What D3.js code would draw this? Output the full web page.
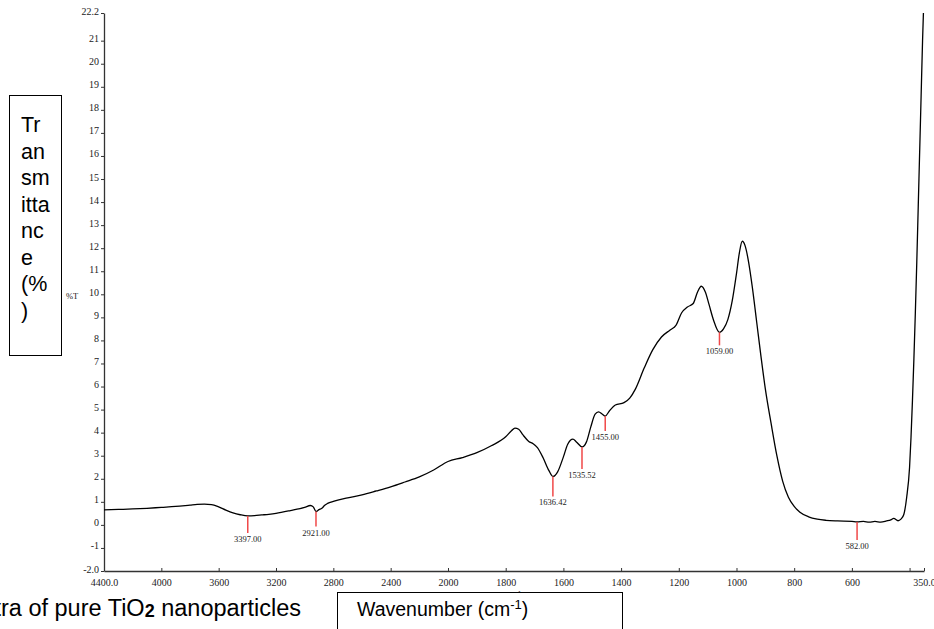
<!DOCTYPE html>
<html>
<head>
<meta charset="utf-8">
<script src="https://cdn.jsdelivr.net/npm/d3@7"></script>
<style>
  body { margin: 0; background: #fff; }
  svg { display: block; }
</style>
</head>
<body>
<script>
// FTIR spectrum of pure TiO2, wavenumber (cm-1) vs %T
var wavenumber = [4400, 4300, 4200, 4100, 4000, 3900, 3800, 3750, 3700, 3650, 3600, 3550, 3500, 3450, 3397, 3350, 3300, 3250, 3200, 3100,
  3000, 2960, 2940, 2921, 2900, 2880, 2860, 2840, 2800, 2700, 2600, 2500, 2400, 2300, 2200, 2100, 2000, 1950, 1900, 1850,
  1800, 1780, 1768, 1755, 1740, 1720, 1705, 1690, 1670, 1650, 1636, 1620, 1600, 1585, 1567, 1555, 1535, 1520, 1505, 1490,
  1478, 1465, 1455, 1440, 1420, 1390, 1370, 1350, 1320, 1290, 1260, 1230, 1210, 1190, 1170, 1150, 1135, 1122, 1108, 1095,
  1080, 1059, 1045, 1030, 1015, 1000, 990, 980, 970, 958, 945, 930, 915, 900, 880, 860, 840, 820, 800, 780,
  750, 720, 690, 650, 600, 582, 560, 540, 520, 500, 480, 465, 455, 440, 430, 420, 410, 400, 395, 390,
  385, 380, 375, 370, 365, 360, 355, 352];
var transmittance = [0.65, 0.67, 0.69, 0.72, 0.76, 0.80, 0.86, 0.89, 0.90, 0.88, 0.78, 0.64, 0.52, 0.44, 0.39, 0.40, 0.43, 0.46, 0.50, 0.62,
  0.76, 0.84, 0.78, 0.58, 0.66, 0.72, 0.85, 0.93, 1.02, 1.17, 1.30, 1.47, 1.65, 1.86, 2.08, 2.38, 2.75, 2.92, 3.13, 3.43,
  3.82, 4.08, 4.20, 4.15, 3.90, 3.62, 3.52, 3.35, 2.90, 2.35, 2.10, 2.30, 2.95, 3.50, 3.72, 3.60, 3.38, 3.60, 4.25, 4.80,
  4.90, 4.80, 4.72, 4.95, 5.20, 5.30, 5.50, 5.90, 6.80, 7.60, 8.15, 8.45, 8.65, 9.20, 9.45, 9.60, 10.10, 10.35, 10.10, 9.55,
  8.90, 8.35, 8.50, 8.90, 9.70, 10.90, 11.80, 12.30, 12.10, 11.40, 10.30, 8.80, 7.30, 5.90, 4.40, 3.00, 1.90, 1.20, 0.80, 0.55,
  0.35, 0.25, 0.20, 0.17, 0.15, 0.13, 0.15, 0.12, 0.15, 0.12, 0.17, 0.22, 0.28, 0.18, 0.25, 0.45, 1.2, 2.5, 3.8, 5.4,
  7.2, 9.2, 11.4, 13.8, 16.2, 18.6, 21.0, 22.2];

// labelled minima
var peakLabels = ["3397.00", "2921.00", "1636.42", "1535.52", "1455.00", "1059.00", "582.00"];
var peakWn = [3397, 2921, 1636.42, 1535.52, 1455, 1059, 582];
var peakT = [0.39, 0.58, 2.10, 3.38, 4.72, 8.35, 0.13];
var peakLen = [17, 15, 20, 22, 15, 13, 18];

var xTicks = [4400, 4000, 3600, 3200, 2800, 2400, 2000, 1800, 1600, 1400, 1200, 1000, 800, 600, 400, 350];
var yTicks = [-2, -1, 0, 1, 2, 3, 4, 5, 6, 7, 8, 9, 10, 11, 12, 13, 14, 15, 16, 17, 18, 19, 20, 21, 22.2];

var width = 934, height = 629;

var svg = d3.select("body").append("svg")
    .attr("width", width)
    .attr("height", height);

// x scale is expanded 2x below 2000 cm-1, as on the instrument plot
var x = d3.scaleLinear()
    .domain([4400, 2000, 350])
    .range([104, 448, 924]);

var y = d3.scaleLinear()
    .domain([-2, 22.2])
    .range([571, 13]);

var data = wavenumber.map(function(w, i){ return {wn: w, t: transmittance[i]}; });

// y axis
var yAxis = svg.append("g")
    .attr("transform", "translate(104,0)")
    .call(d3.axisLeft(y)
      .tickValues(yTicks)
      .tickSizeInner(3)
      .tickSizeOuter(0)
      .tickFormat(function(d){
        if (d == -2) return "-2.0";
        if (d == 22.2) return "22.2";
        return d < 0 ? "-" + Math.abs(d) : String(d);
      }));

// x axis, ticks pointing up
var xAxis = svg.append("g")
    .attr("transform", "translate(0,571)")
    .call(d3.axisBottom(x)
      .tickValues(xTicks)
      .tickSizeInner(-3)
      .tickSizeOuter(0)
      .tickPadding(8)
      .tickFormat(function(d){
        if (d == 4400) return "4400.0";
        if (d == 350) return "350.0";
        if (d == 400) return "";
        return String(d);
      }));

svg.selectAll(".domain").attr("stroke", "#333").attr("stroke-width", 1.3);
svg.selectAll(".tick line").attr("stroke", "#333");
svg.selectAll(".tick text")
    .attr("font-family", "Liberation Serif, serif")
    .attr("font-size", 10)
    .attr("fill", "#222");
yAxis.selectAll(".tick text").attr("x", -5).attr("dy", "0.1em");

svg.append("text")
    .attr("x", 66).attr("y", 299)
    .attr("font-family", "Liberation Serif, serif")
    .attr("font-size", 8.5)
    .attr("fill", "#222")
    .text("%T");

// small unit label under axis, mostly hidden by the box below
svg.append("text")
    .attr("x", 505).attr("y", 597)
    .attr("font-family", "Liberation Serif, serif")
    .attr("font-size", 8)
    .attr("fill", "#222")
    .text("cm-1");

// spectrum
var line = d3.line()
    .x(function(d){ return x(d.wn); })
    .y(function(d){ return y(d.t); })
    .curve(d3.curveMonotoneX);

svg.append("path")
    .datum(data)
    .attr("d", line)
    .attr("fill", "none")
    .attr("stroke", "#000")
    .attr("stroke-width", 1.3);

// peak markers
var peaks = svg.selectAll(".peak")
    .data(peakLabels)
    .enter().append("g")
    .attr("class", "peak");

peaks.append("line")
    .attr("x1", function(d, i){ return x(peakWn[i]); })
    .attr("x2", function(d, i){ return x(peakWn[i]); })
    .attr("y1", function(d, i){ return y(peakT[i]); })
    .attr("y2", function(d, i){ return y(peakT[i]) + peakLen[i]; })
    .attr("stroke", "#f04848")
    .attr("stroke-width", 1.5);

peaks.append("text")
    .attr("x", function(d, i){ return x(peakWn[i]); })
    .attr("y", function(d, i){ return y(peakT[i]) + peakLen[i] + 9; })
    .attr("text-anchor", "middle")
    .attr("font-family", "Liberation Serif, serif")
    .attr("font-size", 8.5)
    .attr("fill", "#222")
    .text(function(d){ return d; });

// boxed y title
svg.append("rect")
    .attr("x", 9.5).attr("y", 95.5)
    .attr("width", 52).attr("height", 260)
    .attr("fill", "#fff")
    .attr("stroke", "#000")
    .attr("stroke-width", 1);

var yTitle = ["Tr", "an", "sm", "itta", "nc", "e", "(%", ")"];
svg.selectAll(".ytitle")
    .data(yTitle)
    .enter().append("text")
    .attr("class", "ytitle")
    .attr("x", 21)
    .attr("y", function(d, i){ return 132 + i * 26.5; })
    .attr("font-family", "Liberation Sans, Arial, sans-serif")
    .attr("font-size", 21.5)
    .attr("fill", "#000")
    .text(function(d){ return d; });

// boxed x title
svg.append("rect")
    .attr("x", 337.5).attr("y", 592.5)
    .attr("width", 285).attr("height", 60)
    .attr("fill", "#fff")
    .attr("stroke", "#000")
    .attr("stroke-width", 1);

var xTitle = svg.append("text")
    .attr("x", 357).attr("y", 616)
    .attr("font-family", "Liberation Sans, Arial, sans-serif")
    .attr("font-size", 19.5)
    .attr("fill", "#000");
xTitle.append("tspan").text("Wavenumber (cm");
xTitle.append("tspan").attr("font-size", 13).attr("dy", -7).text("-1");
xTitle.append("tspan").attr("dy", 7).text(")");

// caption, cut off at the left edge as in the figure
var caption = svg.append("text")
    .attr("x", 301).attr("y", 616)
    .attr("text-anchor", "end")
    .attr("font-family", "Liberation Sans, Arial, sans-serif")
    .attr("font-size", 23.5)
    .attr("fill", "#000");
caption.append("tspan").text("FTIR spectra of pure TiO");
caption.append("tspan").attr("font-weight", "bold").attr("font-size", 18).attr("dy", 1).text("2");
caption.append("tspan").attr("dy", -1).text(" nanoparticles");
</script>
</body>
</html>
